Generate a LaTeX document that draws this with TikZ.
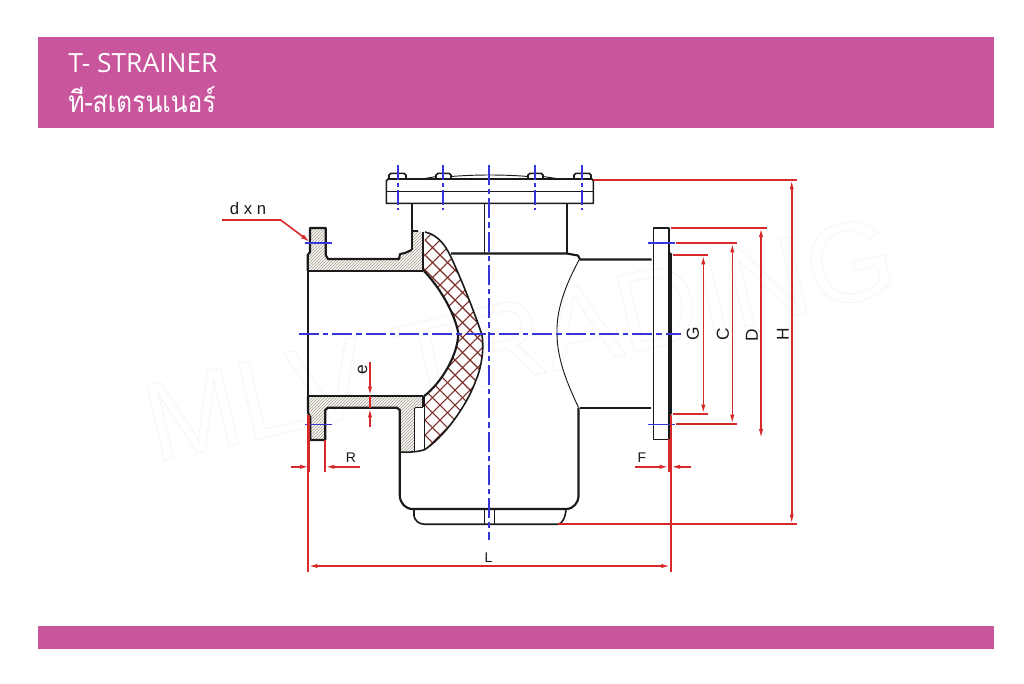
\documentclass[tikz,border=0pt]{standalone}
\usepackage{fontspec}
\setmainfont{Liberation Sans}
\newfontfamily\titlefont{Open Sans}
\newfontfamily\thaifont[Script=Thai,FakeStretch=0.83]{Loma}
\usetikzlibrary{arrows.meta}
\definecolor{band}{HTML}{C9559D}
\definecolor{dimred}{HTML}{D62A2A}
\definecolor{axisblue}{HTML}{3535D8}
\definecolor{hatchbrown}{HTML}{A89F8C}
\definecolor{netbrown}{HTML}{7C2C26}
\definecolor{ink}{HTML}{1A1A1A}
\tikzset{
  bandbox/.style={fill=band,draw=none},
  outline/.style={draw=ink,line width=1.2pt,line join=round},
  heavy/.style={draw=ink,line width=1.6pt,line join=round},
  thinline/.style={draw=ink,line width=.7pt},
  axisline/.style={draw=axisblue,line width=1.25pt,dash pattern=on 15pt off 3pt on 4pt off 3pt},
  boltaxis/.style={draw=axisblue,line width=1.25pt,dash pattern=on 11pt off 2.5pt on 3pt off 2.5pt},
  boltline/.style={draw=axisblue,line width=1.2pt},
  dimline/.style={draw=dimred,line width=1.2pt},
  dimarrow/.style={dimline,-{Latex[length=7pt,width=3.2pt]}},
  dimboth/.style={dimline,{Latex[length=7pt,width=3.2pt]}-{Latex[length=7pt,width=3.2pt]}},
  dimlabel/.style={text=ink,inner sep=0pt,font=\fontsize{13}{14}\selectfont},
  smalllabel/.style={text=ink,inner sep=0pt,font=\fontsize{10.5}{11}\selectfont},
}
\newcommand{\hatchfill}[1]{\begin{scope}
  \clip #1;
  \fill[white!92!hatchbrown] (280,200) rectangle (440,470);
  \foreach \c in {300,303,...,750}{\draw[hatchbrown,line width=.5pt] (\c-300,500)--(\c,200);}
\end{scope}}
\newcommand{\netfill}[1]{\begin{scope}
  \clip #1;
  \foreach \c in {450,465,...,750}{\draw[netbrown,line width=.8pt] (\c-300,500)--(\c,200);}
  \foreach \c in {100,115,...,430}{\draw[netbrown,line width=.8pt] (\c,200)--(\c+300,500);}
\end{scope}}
\begin{document}
\begin{tikzpicture}[x=.75pt,y=-.75pt]
\useasboundingbox (0,0) rectangle (1024,683);
% watermark
\node[anchor=base west,inner sep=0pt,rotate=13,text=black!5,font=\fontsize{85}{85}\selectfont] (mark) at (155,463)
  {\special{pdf:code 1 Tr 0.5 w}MLV TRADING\special{pdf:code 0 Tr}};
% bands
\fill[bandbox] (38,37) rectangle (994,128);
\fill[bandbox] (38,626) rectangle (994,649);
\node[anchor=base west,inner sep=0pt,text=white,font=\titlefont\fontsize{19.8}{21}\selectfont] (title) at (68,72) {T- STRAINER};
\node[anchor=base west,inner sep=0pt,text=white,font=\thaifont\fontsize{22.3}{24}\selectfont] (titleth) at (68,112) {ที-สเตรนเนอร์};
% hatched sections
\def\upperhatch{(310,228)--(325.7,228)--(325.7,255)--(328,259)--(399,259)--(400,254)--(405,253)--(412,250)--(412.5,231)--(418,231)--(422,232)--(422,271)--(307.7,271)--(307.7,255)--(310,252)--cycle}
\def\lowerhatch{(308.3,396)--(422.5,396)--(422.5,407)--(416,408)--(414.3,412)--(414.3,451.5)--(400.7,452)--(400,409)--(397,407.7)--(328,407.7)--(325.3,410)--(325.3,440)--(310.3,440)--(310.3,417)--(308.3,413)--cycle}
\def\uppernet{(425,232) .. controls (438,235) and (445,245) .. (450,255) .. controls (458,272) and (470,300) .. (481.7,334) -- (458.3,334) .. controls (455,315) and (442,290) .. (424,270.5) -- cycle}
\def\lowernet{(458.3,333) -- (481.7,333) .. controls (485,350) and (480,372) .. (476,380) .. controls (470,398) and (450,432) .. (425,449.5) -- (424.3,396) .. controls (442,382) and (458,355) .. (458.3,333) -- cycle}
\hatchfill{\upperhatch}
\hatchfill{\lowerhatch}
\netfill{\uppernet}
\netfill{\lowernet}
% outlines of sections
\draw[heavy] (307.7,271) -- (307.7,255) -- (310,252) -- (310,228) -- (325.7,228) -- (325.7,255) -- (328,259) -- (399,259) -- (400,254) -- (405,253) -- (411.5,250);
\draw[outline] (411.8,250) -- (411.8,203);
\draw[outline] (412.5,231) -- (418,231);
\draw[heavy] (307.7,271) -- (423,271);
\draw[heavy] (423,231.5) -- (423,271);
\draw[outline] (307.7,271) -- (307.7,396);
\draw[heavy] (307.7,396) -- (423,396) -- (423,407) ;
\draw[heavy] (308,396) -- (308,413) -- (310.3,417) -- (310.3,440) -- (325.3,440) -- (325.3,410) -- (328,407.7) -- (397,407.7) -- (399.7,410) -- (399.7,495) .. controls (400,503) and (405,509) .. (413,509);
\draw[outline] (414.3,408) -- (414.3,451.5);
\draw[outline] (400,452) .. controls (408,452.5) and (418,452) .. (425,449.5);
\draw[outline] (415,407.5) -- (423,407.5);
% net outlines
\draw[outline] (425,232) .. controls (438,235) and (445,245) .. (450,255) .. controls (458,272) and (470,300) .. (481.7,334) .. controls (485,350) and (480,372) .. (476,380) .. controls (470,398) and (450,432) .. (425,449.5);
\draw[heavy] (424,271) .. controls (442,290) and (455,315) .. (458.3,333) .. controls (458,355) and (442,382) .. (424.3,396);
\draw[outline] (424.3,396) -- (424.3,449);
% cover
\draw[outline] (388,179) -- (592,179) -- (593.3,181) -- (593.3,203.3) -- (386.3,203.3) -- (386.3,181) -- cycle;
\draw[outline] (386.3,191.3) -- (593.3,191.3);
\foreach \xa/\xb in {389/406,436/451,528/543,574/591}{
  \draw[outline] (\xa,179) -- (\xa,175) -- (\xa+2,173.3) -- (\xb-2,173.3) -- (\xb,175) -- (\xb,179);
}
\draw[thinline] (406,179) -- (422,179) -- (436,176.5);
\draw[thinline] (451,176.5) .. controls (475,174.5) and (505,174.5) .. (528,176.5);
\draw[thinline] (543,176.5) -- (560,179) -- (574,179);
% neck and body
\draw[outline] (566.7,203.3) -- (566.7,253);
\draw[outline] (484.5,203.3) -- (484.5,253);
\draw[heavy] (451,253.5) -- (566.7,253.5) -- (578,255.5) -- (580,259.5) -- (651.5,259.5);
\draw[outline] (580,407.8) -- (651,407.8);
\draw[thinline] (579,260) .. controls (570,277) and (556,305) .. (557,333) .. controls (557,360) and (568,385) .. (578.5,407.5);
% flange right
\draw[outline] (653.3,259) -- (653.3,227.7) -- (668.7,227.7) -- (668.7,439.3) -- (653.3,439.3) -- (653.3,408);
\draw[outline] (653.3,259) -- (653.3,408);
\draw[heavy] (668.7,252.5) -- (670.7,254) -- (670.7,413.5) -- (668.7,415);
% body lower right and base
\draw[heavy] (578.5,407.5) -- (578.5,497) .. controls (578,502) and (574,509) .. (566,509) -- (413,509);
\draw[outline] (414,509) -- (414,516) .. controls (415,520) and (418,524) .. (424,524.2) -- (558,524.2) .. controls (562,524) and (565.5,518) .. (566,509);
\draw[outline] (484.3,509) -- (484.3,524);
\draw[outline] (494.3,509) -- (494.3,524);
% blue axes
\draw[axisline] (299,334) -- (681,334);
\draw[axisline] (489,165) -- (489,540);
\foreach \x in {397.7,443.3,535,581.7}{\draw[boltaxis] (\x,165) -- (\x,210);}
\draw[boltline] (305,243) -- (332,243);
\draw[boltline] (305,424.3) -- (331.5,424.3);
\draw[boltline] (648.3,243) -- (675,243);
\draw[boltline] (648.3,424.3) -- (675,424.3);
% d x n leader
\draw[dimline,-{Latex[length=7pt,width=3.5pt]}] (222,220) -- (280.7,220) -- (310,242);
\node[smalllabel,font=\fontsize{12.5}{13}\selectfont] (dxn) at (248,209) {d x n};
% L
\draw[dimline] (308,415) -- (308,571.5);
\draw[dimline] (670.7,415) -- (670.7,571.5);
\draw[dimboth] (308,566) -- (670.7,566);
\node[smalllabel] (labL) at (488.5,558) {L};
% R
\draw[dimline] (309.5,415) -- (309.5,472);
\draw[dimline] (325,440) -- (325,472);
\draw[dimarrow] (290.7,466.8) -- (309.5,466.8);
\draw[dimarrow] (360,466.8) -- (325,466.8);
\node[smalllabel] (labR) at (351,458) {R};
% F
\draw[dimline] (669,439.3) -- (669,472);
\draw[dimarrow] (635,466.8) -- (669,466.8);
\draw[dimarrow] (691,466.8) -- (670.7,466.8);
\node[smalllabel] (labF) at (642,458) {F};
% e
\draw[dimarrow] (370,361.7) -- (370,396);
\draw[dimarrow] (370,427) -- (370,408);
\draw[dimline] (370,396) -- (370,408);
\node[dimlabel,rotate=90] (labe) at (362.5,370) {e};
% G C D H
\draw[dimline] (672.7,255) -- (708,255);
\draw[dimline] (672.7,414) -- (708,414);
\draw[dimboth] (703.3,255) -- (703.3,414);
\node[dimlabel,rotate=90] (labG) at (693,334) {G};
\draw[dimline] (676,243) -- (737,243);
\draw[dimline] (676,424) -- (737,424);
\draw[dimboth] (732.3,243) -- (732.3,424);
\node[dimlabel,rotate=90] (labC) at (723,334) {C};
\draw[dimline] (671,227.7) -- (766.7,227.7);
\draw[dimboth] (761,227.7) -- (761,438.5);
\node[dimlabel,rotate=90] (labD) at (752,335) {D};
\draw[dimline] (593.3,179.8) -- (796.7,179.8);
\draw[dimline] (558,524) -- (796.7,524);
\draw[dimboth] (791.7,179.8) -- (791.7,524);
\node[dimlabel,rotate=90] (labH) at (783,334) {H};
\end{tikzpicture}
\end{document}
